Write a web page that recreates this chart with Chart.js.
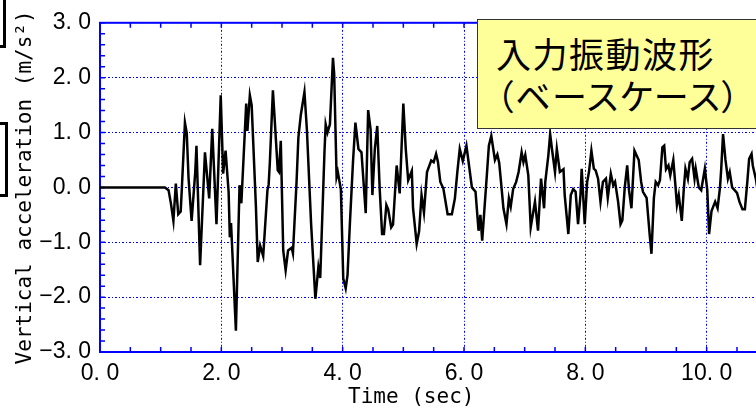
<!DOCTYPE html>
<html><head><meta charset="utf-8">
<script src="https://cdn.jsdelivr.net/npm/chart.js@4"></script>
<style>
html,body{margin:0;padding:0;overflow:hidden;background:#fff;width:756px;height:408px;}
#wrap{position:absolute;left:0;top:0;width:880px;height:408px;}
#frag1{position:absolute;left:-20px;top:-6px;width:20px;height:48px;border:3px solid #000;}
#frag2{position:absolute;left:-20px;top:122px;width:22px;height:69px;border:3px solid #000;}
#note{position:absolute;left:477px;top:19px;width:320px;height:110px;background:#ffff99;border:1.5px solid #333;
  font-family:"Noto Sans CJK JP",sans-serif;font-size:35px;line-height:42px;color:#000;padding:12px 0 0 18px;box-sizing:border-box;
  font-feature-settings:"palt";white-space:nowrap;}
#note .l1{letter-spacing:1.5px;}
#note .l2{letter-spacing:1.6px;}
#xt{position:absolute;left:348px;top:384px;font-family:"DejaVu Sans Mono",monospace;font-size:21px;line-height:24px;color:#000;white-space:pre;}
</style></head>
<body>
<div id="wrap"><canvas id="c" width="880" height="408"></canvas></div>
<div id="frag1"></div><div id="frag2"></div>
<div id="note"><div class="l1">入力振動波形</div><div class="l2">（ベースケース）</div></div>
<div id="xt">Time (sec)</div>
<script>
const times = [0.00,1.07,1.13,1.17,1.21,1.25,1.29,1.33,1.35,1.40,1.43,1.46,1.51,1.57,1.59,1.65,1.73,1.80,1.85,1.92,
1.99,2.03,2.07,2.12,2.14,2.16,2.24,2.30,2.33,2.41,2.43,2.47,2.50,2.57,2.60,2.64,2.69,2.76,2.78,2.80,
2.85,2.88,2.93,2.95,2.98,3.02,3.06,3.10,3.16,3.18,3.24,3.27,3.31,3.37,3.41,3.48,3.55,3.60,3.63,3.70,
3.72,3.75,3.79,3.84,3.86,3.90,3.92,3.97,4.01,4.05,4.08,4.12,4.17,4.21,4.26,4.31,4.38,4.42,4.46,4.49,
4.53,4.57,4.61,4.65,4.68,4.72,4.75,4.80,4.83,4.89,4.94,5.00,5.04,5.08,5.14,5.16,5.22,5.26,5.30,5.34,
5.39,5.46,5.50,5.54,5.57,5.61,5.66,5.73,5.80,5.85,5.89,5.93,5.98,6.04,6.09,6.13,6.19,6.24,6.27,6.30,
6.38,6.41,6.45,6.51,6.55,6.58,6.61,6.65,6.70,6.74,6.77,6.81,6.86,6.90,6.95,6.98,7.01,7.06,7.10,7.17,
7.22,7.27,7.32,7.34,7.39,7.42,7.45,7.50,7.53,7.58,7.64,7.66,7.72,7.76,7.80,7.84,7.88,7.92,7.94,7.99,
8.03,8.06,8.10,8.14,8.17,8.21,8.25,8.29,8.34,8.37,8.42,8.46,8.49,8.54,8.58,8.61,8.65,8.69,8.72,8.76,
8.81,8.88,8.92,8.95,9.01,9.06,9.09,9.13,9.16,9.20,9.23,9.27,9.30,9.33,9.37,9.40,9.45,9.48,9.51,9.54,
9.59,9.62,9.65,9.69,9.72,9.76,9.80,9.82,9.87,9.91,9.97,10.01,10.04,10.08,10.14,10.18,10.22,10.24,10.27,10.31,
10.35,10.38,10.42,10.46,10.50,10.54,10.59,10.63,10.67,10.70,10.74,10.76,10.81,10.86,10.92];
const accel = [0,0,-0.05,-0.30,-0.61,0.07,-0.49,-0.44,0.00,1.18,0.99,0.16,-0.61,0.28,0.76,-1.42,0.64,-0.20,1.07,-0.67,
1.68,0.25,0.67,-0.08,-0.91,-0.65,-2.61,0.04,-0.29,1.53,1.03,1.68,1.50,-0.35,-1.36,-1.06,-1.25,-0.05,0.05,0.46,
1.77,1.23,0.31,0.28,0.85,-1.15,-1.51,-1.15,-1.10,-1.20,0.10,0.91,1.32,1.74,1.06,-0.67,-2.03,-1.45,-1.65,0.64,
1.15,1.00,1.15,2.36,2.07,0.19,0.28,-0.03,-1.66,-1.84,-1.60,-0.64,0.46,1.18,0.70,0.64,-0.47,1.41,1.06,-0.14,
0.70,1.12,-0.02,-0.85,-0.85,-0.32,-0.40,-0.73,-0.68,0.40,-0.11,1.53,0.70,0.13,0.30,-0.38,-1.03,-0.80,-0.14,-0.46,
0.28,0.49,0.46,0.61,0.47,0.10,-0.02,-0.49,-0.49,-0.20,0.28,0.70,0.48,0.76,0.34,0.00,-0.08,-0.79,-0.50,-0.97,
0.28,0.76,0.94,0.50,0.60,0.45,0.10,-0.38,-0.67,-0.20,-0.35,-0.03,0.10,0.28,0.64,0.46,0.59,0.22,-0.73,-0.26,
-0.79,0.16,-0.38,0.10,0.58,0.97,0.70,0.28,0.70,0.28,0.33,-0.14,-0.85,-0.14,-0.03,-0.08,-0.67,-0.14,0.34,-0.67,
0.10,0.28,0.67,0.34,0.31,0.16,-0.26,0.10,0.16,-0.19,0.25,0.04,0.10,-0.26,-0.67,-0.60,0.00,0.40,-0.05,-0.38,
0.67,0.50,0.10,-0.08,-0.19,-0.85,-1.21,-0.19,0.10,0.04,0.13,0.73,0.76,0.33,0.40,0.22,0.50,0.10,-0.32,-0.14,
-0.61,-0.08,0.34,0.16,0.46,0.52,0.16,0.34,0.00,-0.05,0.34,-0.05,-0.85,-0.43,-0.26,-0.38,0.00,0.34,0.97,0.50,
0.16,0.28,0.00,-0.05,-0.10,-0.26,-0.40,-0.40,0.10,0.52,0.61,0.40,0.16,-0.20,0.10];
const xTickValues = [0,2,4,6,8,10,12];
const xTickLabels = ["0. 0","2. 0","4. 0","6. 0","8. 0","10. 0","12. 0"];
const yTickValues = [-3,-2,-1,0,1,2,3];
const yTickLabels = ["−3. 0","−2. 0","−1. 0","0. 0","1. 0","2. 0","3. 0"];
const yTitle = "Vertical acceleration (m/s²)";

const BLUE = '#0000ff';
const frameTicks = {
  id: 'frameTicks',
  beforeDatasetsDraw(chart, args, o) {
    const {ctx, chartArea: a, scales: {x, y}} = chart;
    ctx.save();
    ctx.setLineDash([]);
    ctx.strokeStyle = BLUE; ctx.lineWidth = 1.5;
    ctx.beginPath();
    const nx = Math.round((x.max - x.min) / o.xStep);
    for (let i = 0; i <= nx; i++) {
      const px = x.getPixelForValue(x.min + i * o.xStep);
      ctx.moveTo(px, a.bottom); ctx.lineTo(px, a.bottom - o.len);
      ctx.moveTo(px, a.top); ctx.lineTo(px, a.top + o.len);
    }
    const ny = Math.round((y.max - y.min) / o.yStep);
    for (let i = 0; i <= ny; i++) {
      const py = y.getPixelForValue(y.min + i * o.yStep);
      ctx.moveTo(a.left, py); ctx.lineTo(a.left + o.len, py);
      ctx.moveTo(a.right, py); ctx.lineTo(a.right - o.len, py);
    }
    ctx.stroke();
    ctx.lineWidth = 2;
    ctx.strokeRect(a.left, a.top, a.right - a.left, a.bottom - a.top);
    ctx.restore();
  }
};

new Chart(document.getElementById('c'), {
  type: 'line',
  data: {
    datasets: [{
      data: times.map((t, i) => ({x: t, y: accel[i]})),
      borderColor: '#000', borderWidth: 2.5, pointRadius: 0, tension: 0, fill: false
    }]
  },
  options: {
    responsive: false, animation: false, devicePixelRatio: 1,
    layout: {padding: {top: 19, right: 52, left: 0, bottom: 0}},
    plugins: {legend: {display: false}, tooltip: {enabled: false},
      frameTicks: {xStep: 0.5, yStep: 0.2, len: 5}},
    scales: {
      x: {
        type: 'linear', min: 0, max: 12,
        afterFit(s) { s.height = 56; },
        ticks: {stepSize: 2, padding: 8, color: '#000', maxRotation: 0,
          font: {family: '"Liberation Sans", sans-serif', size: 23},
          callback: v => { const i = xTickValues.indexOf(v); return i >= 0 ? xTickLabels[i] : ''; }},
        grid: {color: BLUE, lineWidth: 1, drawTicks: false},
        border: {display: true, color: BLUE, width: 2, dash: [2, 2, 1, 2]}
      },
      y: {
        min: -3, max: 3,
        afterFit(s) { s.width = 100; },
        ticks: {stepSize: 1, padding: 9, color: '#000',
          font: {family: '"Liberation Sans", sans-serif', size: 23},
          callback: v => { const i = yTickValues.indexOf(v); return i >= 0 ? yTickLabels[i] : ''; }},
        grid: {color: BLUE, lineWidth: 1, drawTicks: false},
        border: {display: true, color: BLUE, width: 2, dash: [2, 2, 1, 2]},
        title: {display: true, text: yTitle, color: '#000', padding: {top: 13, bottom: 0},
          font: {family: '"DejaVu Sans Mono", monospace', size: 21, lineHeight: 1.2}}
      }
    }
  },
  plugins: [frameTicks]
});
</script>
</body></html>
